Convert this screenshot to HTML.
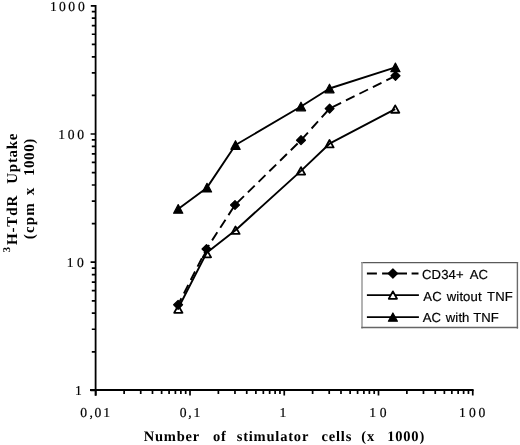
<!DOCTYPE html>
<html><head><meta charset="utf-8"><style>
html,body{margin:0;padding:0;background:#fff;width:520px;height:445px;overflow:hidden}
svg{display:block;text-rendering:geometricPrecision;will-change:transform}
</style></head><body>
<svg width="520" height="445" viewBox="0 0 520 445">
<line x1="95.6" y1="4.9" x2="95.6" y2="395.8" stroke="#000" stroke-width="1.8"/>
<line x1="90.0" y1="390.0" x2="473.6" y2="390.0" stroke="#000" stroke-width="1.9"/>
<path d="M90.6 390.40H95.6 M91.8 351.81H95.6 M91.8 329.23H95.6 M91.8 313.22H95.6 M91.8 300.79H95.6 M91.8 290.64H95.6 M91.8 282.06H95.6 M91.8 274.62H95.6 M91.8 268.07H95.6 M90.6 262.20H95.6 M91.8 223.61H95.6 M91.8 201.03H95.6 M91.8 185.02H95.6 M91.8 172.59H95.6 M91.8 162.44H95.6 M91.8 153.86H95.6 M91.8 146.42H95.6 M91.8 139.87H95.6 M90.6 134.00H95.6 M91.8 95.41H95.6 M91.8 72.83H95.6 M91.8 56.82H95.6 M91.8 44.39H95.6 M91.8 34.24H95.6 M91.8 25.66H95.6 M91.8 18.22H95.6 M91.8 11.67H95.6 M90.8 5.80H95.6 M95.75 390.0V395.6 M124.12 390.0V394.0 M140.72 390.0V394.0 M152.49 390.0V394.0 M161.63 390.0V394.0 M169.09 390.0V394.0 M175.40 390.0V394.0 M180.87 390.0V394.0 M185.69 390.0V394.0 M190.00 390.0V395.6 M218.37 390.0V394.0 M234.97 390.0V394.0 M246.74 390.0V394.0 M255.88 390.0V394.0 M263.34 390.0V394.0 M269.65 390.0V394.0 M275.12 390.0V394.0 M279.94 390.0V394.0 M284.25 390.0V395.6 M312.62 390.0V394.0 M329.22 390.0V394.0 M340.99 390.0V394.0 M350.13 390.0V394.0 M357.59 390.0V394.0 M363.90 390.0V394.0 M369.37 390.0V394.0 M374.19 390.0V394.0 M378.50 390.0V395.6 M406.87 390.0V394.0 M423.47 390.0V394.0 M435.24 390.0V394.0 M444.38 390.0V394.0 M451.84 390.0V394.0 M458.15 390.0V394.0 M463.62 390.0V394.0 M468.44 390.0V394.0 M472.75 390.0V395.6" stroke="#000" stroke-width="1.7" fill="none"/>
<polyline points="178.2,208.95 207,187.65 235.5,145.05 301,106.5 329.5,88.5 395.4,67.4" fill="none" stroke="#000" stroke-width="1.9" stroke-linejoin="round"/>
<polyline points="178.2,308.3 206.7,252.7 235.5,230.2 301,170.85 329.5,143.7 395.2,109.05" fill="none" stroke="#000" stroke-width="1.9" stroke-linejoin="round"/>
<polyline points="178.1,304.8 206.5,249.0 235,205 301,140.2 329.6,108.6 395.5,75.8" fill="none" stroke="#000" stroke-width="1.9" stroke-dasharray="9.6 5.44" stroke-dashoffset="2.3"/>
<path d="M173.60 213.25L178.20 204.65L182.80 213.25Z M202.40 191.95L207.00 183.35L211.60 191.95Z M230.90 149.35L235.50 140.75L240.10 149.35Z M296.40 110.80L301.00 102.20L305.60 110.80Z M324.90 92.80L329.50 84.20L334.10 92.80Z M390.80 71.70L395.40 63.10L400.00 71.70Z" fill="#000" stroke="#000" stroke-width="1.2" stroke-linejoin="round"/>
<path d="M174.20 312.80L178.30 305.40L182.40 312.80Z M202.80 257.30L206.90 249.90L211.00 257.30Z M231.40 233.90L235.50 226.50L239.60 233.90Z M296.90 174.55L301.00 167.15L305.10 174.55Z M325.40 147.40L329.50 140.00L333.60 147.40Z M391.10 112.75L395.20 105.35L399.30 112.75Z" fill="none" stroke="#000" stroke-width="1.8" stroke-linejoin="round"/>
<path d="M173.70 304.80L178.10 300.40L182.50 304.80L178.10 309.20Z M202.10 249.00L206.50 244.60L210.90 249.00L206.50 253.40Z M230.60 205.00L235.00 200.60L239.40 205.00L235.00 209.40Z M296.60 140.20L301.00 135.80L305.40 140.20L301.00 144.60Z M325.20 108.60L329.60 104.20L334.00 108.60L329.60 113.00Z M391.10 75.80L395.50 71.40L399.90 75.80L395.50 80.20Z" fill="#000" stroke="#000" stroke-width="1.3" stroke-linejoin="round"/>
<rect x="361.7" y="262.6" width="155.8" height="65.4" fill="#fff" stroke="none"/>
<path d="M361.1 262.6H518.1" stroke="#5a5a5a" stroke-width="1.4"/>
<path d="M362 262.0V328.6" stroke="#9a9a9a" stroke-width="1.5"/>
<path d="M517.4 262.0V328.6" stroke="#6a6a6a" stroke-width="1.4"/>
<path d="M361.3 327.5H518.1" stroke="#666" stroke-width="1.4"/>
<path d="M366.9 273.5H376.9M382.1 273.5H407.0M411.6 273.5H418.5" stroke="#000" stroke-width="1.9"/>
<line x1="366.9" y1="295.1" x2="418.9" y2="295.1" stroke="#000" stroke-width="1.9"/>
<line x1="366.9" y1="317.1" x2="418.9" y2="317.1" stroke="#000" stroke-width="1.9"/>
<path d="M388.30 273.50L392.90 268.90L397.50 273.50L392.90 278.10Z" fill="#000" stroke="#000" stroke-width="1.2" stroke-linejoin="round"/>
<path d="M388.80 298.80L392.90 291.40L397.00 298.80Z" fill="#fff" stroke="#000" stroke-width="1.8" stroke-linejoin="round"/>
<path d="M388.40 321.20L392.90 313.00L397.40 321.20Z" fill="#000" stroke="#000" stroke-width="1.2" stroke-linejoin="round"/>
<text x="422.03" y="279.1" font-family="Liberation Sans, sans-serif" font-size="13.1" letter-spacing="0.1" stroke="#000" stroke-width="0.2">CD34+</text>
<text x="469.77" y="279.1" font-family="Liberation Sans, sans-serif" font-size="13.1" letter-spacing="0.1" stroke="#000" stroke-width="0.2">AC</text>
<text x="423.37" y="300.8" font-family="Liberation Sans, sans-serif" font-size="13.1" letter-spacing="0.1" stroke="#000" stroke-width="0.2">AC</text>
<text x="446.82" y="300.8" font-family="Liberation Sans, sans-serif" font-size="13.1" letter-spacing="0.1" stroke="#000" stroke-width="0.2">witout</text>
<text x="487.11" y="300.8" font-family="Liberation Sans, sans-serif" font-size="13.1" letter-spacing="0.1" stroke="#000" stroke-width="0.2">TNF</text>
<text x="422.77" y="322.4" font-family="Liberation Sans, sans-serif" font-size="13.1" letter-spacing="0.1" stroke="#000" stroke-width="0.2">AC</text>
<text x="445.82" y="322.4" font-family="Liberation Sans, sans-serif" font-size="13.1" letter-spacing="0.1" stroke="#000" stroke-width="0.2">with</text>
<text x="473.21" y="322.4" font-family="Liberation Sans, sans-serif" font-size="13.1" letter-spacing="0.1" stroke="#000" stroke-width="0.2">TNF</text>
<text x="50.01 59.00 68.25 77.90" y="11.2" font-family="Liberation Serif, serif" font-size="13.6" stroke="#000" stroke-width="0.2">1000</text>
<text x="58.26 67.85 77.20" y="139.3" font-family="Liberation Serif, serif" font-size="13.6" stroke="#000" stroke-width="0.2">100</text>
<text x="66.71 76.90" y="267.3" font-family="Liberation Serif, serif" font-size="13.6" stroke="#000" stroke-width="0.2">10</text>
<text x="75.01" y="395.0" font-family="Liberation Serif, serif" font-size="13.6" stroke="#000" stroke-width="0.2">1</text>
<text x="80.30 89.47 94.40 103.21" y="416.7" font-family="Liberation Serif, serif" font-size="13.6" stroke="#000" stroke-width="0.2">0,01</text>
<text x="179.70 188.32 193.41" y="416.7" font-family="Liberation Serif, serif" font-size="13.6" stroke="#000" stroke-width="0.2">0,1</text>
<text x="279.61" y="416.7" font-family="Liberation Serif, serif" font-size="13.6" stroke="#000" stroke-width="0.2">1</text>
<text x="369.21 379.65" y="416.7" font-family="Liberation Serif, serif" font-size="13.6" stroke="#000" stroke-width="0.2">10</text>
<text x="459.11 468.95 478.40" y="416.7" font-family="Liberation Serif, serif" font-size="13.6" stroke="#000" stroke-width="0.2">100</text>
<text x="143.7" y="440.8" font-family="Liberation Serif, serif" font-weight="bold" font-size="14.5" letter-spacing="0.8">Number</text>
<text x="212.9" y="440.8" font-family="Liberation Serif, serif" font-weight="bold" font-size="14.5" letter-spacing="0.8">of</text>
<text x="236.7" y="440.8" font-family="Liberation Serif, serif" font-weight="bold" font-size="14.5" letter-spacing="0.8">stimulator</text>
<text x="321.5" y="440.8" font-family="Liberation Serif, serif" font-weight="bold" font-size="14.5" letter-spacing="0.8">cells</text>
<text x="361.3" y="440.8" font-family="Liberation Serif, serif" font-weight="bold" font-size="14.5" letter-spacing="0.8">(x</text>
<text x="387.2" y="440.8" font-family="Liberation Serif, serif" font-weight="bold" font-size="14.5" letter-spacing="0.8">1000)</text>
<g transform="rotate(-90)"><text x="-252.2" y="10.1" font-family="Liberation Serif, serif" font-weight="bold" font-size="10.6">3</text><text x="-245.0" y="16.6" font-family="Liberation Serif, serif" font-weight="bold" font-size="15" letter-spacing="0.85">H-TdR</text><text x="-183.7" y="16.6" font-family="Liberation Serif, serif" font-weight="bold" font-size="15" letter-spacing="0.7">Uptake</text><text x="-239.3" y="34.0" font-family="Liberation Serif, serif" font-weight="bold" font-size="15" letter-spacing="1.2">(cpm</text><text x="-195.3" y="34.1" font-family="Liberation Serif, serif" font-weight="bold" font-size="15">x</text><text x="-176.1" y="34.1" font-family="Liberation Serif, serif" font-weight="bold" font-size="15" letter-spacing="0.6">1000)</text></g>
</svg>
</body></html>
